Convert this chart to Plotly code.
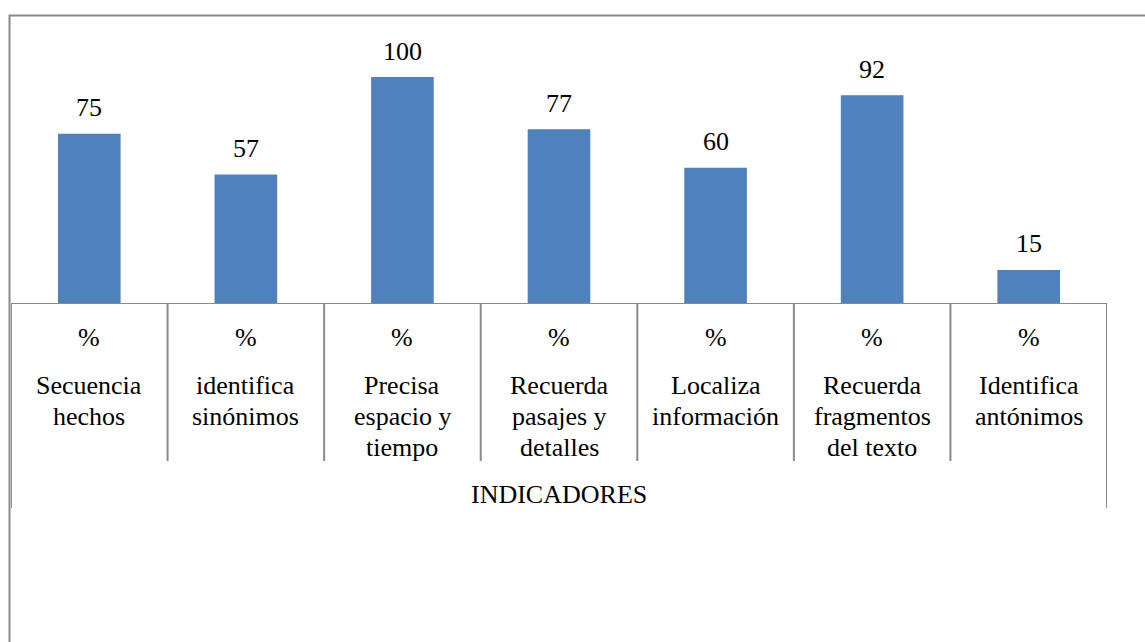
import plotly.graph_objects as go

# ---- data ----
categories = ["Secuencia hechos", "identifica sinónimos", "Precisa espacio y tiempo",
              "Recuerda pasajes y detalles", "Localiza información",
              "Recuerda fragmentos del texto", "Identifica antónimos"]
category_lines = [["Secuencia", "hechos"], ["identifica", "sinónimos"],
                  ["Precisa", "espacio y", "tiempo"], ["Recuerda", "pasajes y", "detalles"],
                  ["Localiza", "información"], ["Recuerda", "fragmentos", "del texto"],
                  ["Identifica", "antónimos"]]
unit_labels = ["%"] * 7
values = [75, 57, 100, 77, 60, 92, 15]
axis_title = "INDICADORES"

W, H = 1145, 642
FONT = "Liberation Serif"
GRAY = "#8a8a8a"
BLUE = "#4F81BD"

def py(px):
    return 1 - px / H

def pxx(px):
    return px / W

x = list(range(len(categories)))

fig = go.Figure()
fig.add_trace(go.Bar(x=x, y=values, width=0.4, marker=dict(color=BLUE, line=dict(width=0)),
                     hoverinfo="skip", showlegend=False))

annotations = []
for i, v in enumerate(values):
    annotations.append(dict(x=i, y=v, xref="x", yref="y", text=str(v), showarrow=False,
                            yanchor="middle", yshift=26,
                            font=dict(family=FONT, size=26, color="black")))
for i, u in enumerate(unit_labels):
    annotations.append(dict(x=i, y=py(337), xref="x", yref="paper", text=u, showarrow=False,
                            yanchor="middle", font=dict(family=FONT, size=26, color="black")))
for i, lines in enumerate(category_lines):
    for k, ln in enumerate(lines):
        annotations.append(dict(x=i, y=py(385 + 31 * k), xref="x", yref="paper", text=ln,
                                showarrow=False, yanchor="middle",
                                font=dict(family=FONT, size=26, color="black")))
annotations.append(dict(x=(len(categories) - 1) / 2, y=py(494), xref="x", yref="paper",
                        text=axis_title, showarrow=False, yanchor="middle",
                        font=dict(family=FONT, size=26, color="black")))

shapes = []
# outer frame (left + top)
shapes.append(dict(type="path", xref="paper", yref="paper",
                   path=f"M {pxx(9.5)} {py(H+2)} L {pxx(9.5)} {py(15.5)} L {pxx(W+2)} {py(15.5)}",
                   line=dict(color=GRAY, width=2)))
# category axis line
shapes.append(dict(type="line", xref="x", yref="y", x0=-0.5, x1=len(categories) - 0.5,
                   y0=0, y1=0, line=dict(color=GRAY, width=2)))
# dividers
n = len(categories)
for j in range(n + 1):
    bottom = 508 if j in (0, n) else 461
    shapes.append(dict(type="line", xref="x", yref="paper", x0=j - 0.5, x1=j - 0.5,
                       y0=py(304), y1=py(bottom), line=dict(color=GRAY, width=2)))

fig.update_layout(
    width=W, height=H,
    margin=dict(l=0, r=0, t=0, b=0),
    paper_bgcolor="white", plot_bgcolor="white",
    font=dict(family=FONT),
    xaxis=dict(visible=False, range=[-0.5, n - 0.5], domain=[pxx(11), pxx(1107)], fixedrange=True),
    yaxis=dict(visible=False, range=[0, 120], domain=[py(304), py(304 - 1.2 * 227)], fixedrange=True),
    annotations=annotations,
    shapes=shapes,
)

fig.write_html("out.html")
